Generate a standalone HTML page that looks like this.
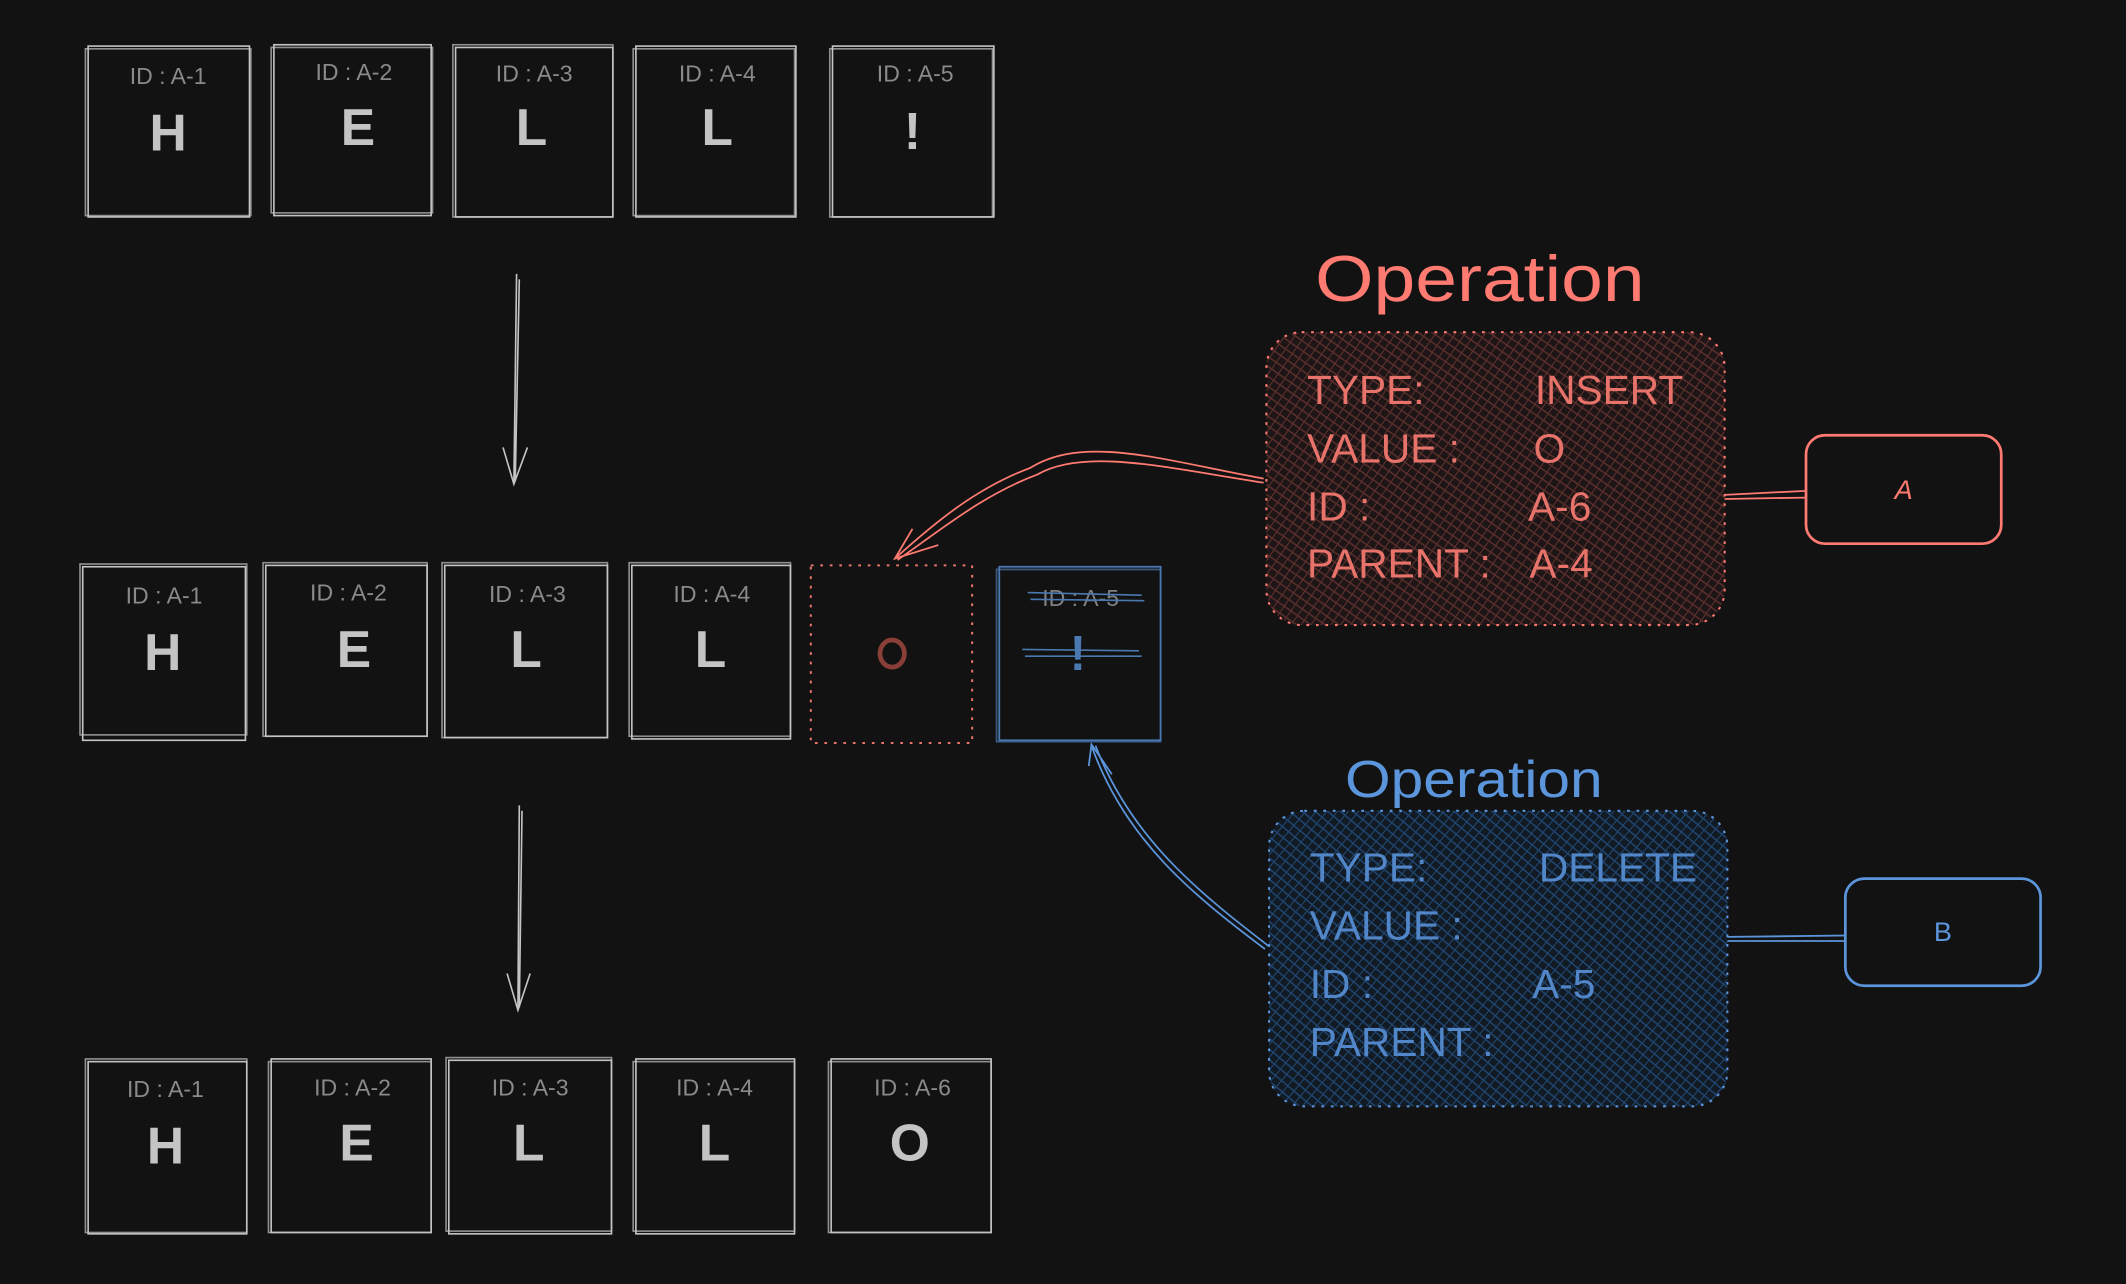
<!DOCTYPE html>
<html><head><meta charset="utf-8"><style>
html,body{margin:0;padding:0;background:#121212;}
svg{display:block}
</style></head><body>
<svg width="2126" height="1284" viewBox="0 0 1568 947" xmlns="http://www.w3.org/2000/svg">
<defs>
<pattern id="hr" width="6" height="6" patternUnits="userSpaceOnUse" patternTransform="rotate(35)">
<rect width="6" height="6" fill="#1e1616"/>
<line x1="0" y1="0" x2="0" y2="6" stroke="#6b3633" stroke-width="1.3"/>
<line x1="0" y1="3" x2="6" y2="3" stroke="#5a2e2c" stroke-width="1.1"/>
</pattern>
<pattern id="hb" width="6" height="6" patternUnits="userSpaceOnUse" patternTransform="rotate(40)">
<rect width="6" height="6" fill="#121a24"/>
<line x1="0" y1="0" x2="0" y2="6" stroke="#24507e" stroke-width="1.3"/>
<line x1="0" y1="3" x2="6" y2="3" stroke="#1f4570" stroke-width="1.1"/>
</pattern>
</defs>
<rect width="1568" height="947" fill="#121212"/>

<g fill="none" stroke="#c4c4c4" stroke-width="1.2">
<rect x="65" y="34" width="119" height="126"/><rect x="63" y="36" width="122" height="123" stroke-opacity=".7"/>
<rect x="202" y="33" width="116" height="126"/><rect x="200" y="35" width="119" height="122" stroke-opacity=".7"/>
<rect x="336" y="35" width="116" height="125"/><rect x="334" y="33" width="118" height="127" stroke-opacity=".7"/>
<rect x="469" y="34" width="118" height="126"/><rect x="467" y="36" width="119" height="123" stroke-opacity=".7"/>
<rect x="614" y="34" width="119" height="126"/><rect x="612" y="36" width="120" height="124" stroke-opacity=".7"/>
<rect x="61" y="418" width="120" height="128"/><rect x="59" y="416" width="123" height="126" stroke-opacity=".7"/>
<rect x="196" y="417" width="119" height="126"/><rect x="194" y="415" width="121" height="128" stroke-opacity=".7"/>
<rect x="328" y="417" width="120" height="127"/><rect x="326" y="415" width="122" height="129" stroke-opacity=".7"/>
<rect x="466" y="417" width="117" height="128"/><rect x="464" y="415" width="119" height="128" stroke-opacity=".7"/>
<rect x="65" y="783" width="117" height="127"/><rect x="63" y="781" width="119" height="128" stroke-opacity=".7"/>
<rect x="200" y="781" width="118" height="128"/><rect x="198" y="783" width="120" height="126" stroke-opacity=".7"/>
<rect x="331" y="782" width="120" height="128"/><rect x="329" y="780" width="122" height="128" stroke-opacity=".7"/>
<rect x="469" y="781" width="117" height="129"/><rect x="467" y="783" width="119" height="125" stroke-opacity=".7"/>
<rect x="613" y="781" width="118" height="128"/><rect x="611" y="783" width="120" height="126" stroke-opacity=".7"/>
<path d="M381 202 L379 357 M383 206 L380 355"/>
<path d="M371 330 L379 357 L389 330"/>
<path d="M383 594 L382 745 M385 598 L383 743"/>
<path d="M374 718 L382 745 L391 718"/>
</g>

<g font-family="Liberation Sans, sans-serif" fill="#8a8a8a" font-size="17" text-anchor="middle">
<text x="124" y="62">ID : A-1</text><text x="261" y="59">ID : A-2</text><text x="394" y="60">ID : A-3</text><text x="529" y="60">ID : A-4</text><text x="675" y="60">ID : A-5</text>
<text x="121" y="445">ID : A-1</text><text x="257" y="443">ID : A-2</text><text x="389" y="444">ID : A-3</text><text x="525" y="444">ID : A-4</text>
<text x="122" y="809">ID : A-1</text><text x="260" y="808">ID : A-2</text><text x="391" y="808">ID : A-3</text><text x="527" y="808">ID : A-4</text><text x="673" y="808">ID : A-6</text>
</g>
<g font-family="Liberation Sans, sans-serif" fill="#c4c4c4" font-size="38" font-weight="bold" text-anchor="middle">
<text x="124" y="111">H</text><text x="264" y="107">E</text><text x="392" y="107">L</text><text x="529" y="107">L</text><text x="673" y="110">!</text>
<text x="120" y="494">H</text><text x="261" y="492">E</text><text x="388" y="492">L</text><text x="524" y="492">L</text>
<text x="122" y="858">H</text><text x="263" y="856">E</text><text x="390" y="856">L</text><text x="527" y="856">L</text><text x="671" y="856">O</text>
</g>

<rect x="598" y="417" width="119" height="131" fill="none" stroke="#e8736b" stroke-width="1.5" stroke-dasharray="2 5"/>
<ellipse cx="658" cy="482" rx="9" ry="10" fill="none" stroke="#8a3e38" stroke-width="3.5"/>
<g fill="none" stroke="#4a78b0" stroke-width="1.3">
<rect x="737" y="418" width="119" height="128"/><rect x="735" y="420" width="121" height="127" stroke-opacity=".7"/>
</g>
<text x="797" y="447" font-family="Liberation Sans, sans-serif" font-size="17" fill="#808080" text-anchor="middle">ID : A-5</text>
<text x="795" y="494" font-family="Liberation Sans, sans-serif" font-size="36" font-weight="bold" fill="#4a78b0" text-anchor="middle">!</text>
<g stroke="#4a78b0" stroke-width="1.2">
<line x1="758" y1="437" x2="842" y2="439"/><line x1="760" y1="442" x2="844" y2="443"/>
<line x1="754" y1="479" x2="840" y2="480"/><line x1="756" y1="484" x2="842" y2="484"/>
</g>

<text x="970" y="222" font-family="Liberation Sans, sans-serif" font-size="48" fill="#ff7b72" textLength="243" lengthAdjust="spacingAndGlyphs">Operation</text>
<rect x="934" y="245" width="338" height="216" rx="26" fill="url(#hr)" stroke="#ff7b72" stroke-width="1.5" stroke-dasharray="2 5"/>
<g font-family="Liberation Sans, sans-serif" font-size="30" fill="#e8736b">
<text x="964" y="298">TYPE:</text><text x="1132" y="298">INSERT</text>
<text x="964" y="341">VALUE :</text><text x="1131" y="341">O</text>
<text x="964" y="384">ID :</text><text x="1127" y="384">A-6</text>
<text x="964" y="426">PARENT :</text><text x="1128" y="426">A-4</text>
</g>
<g fill="none" stroke="#ff7b72" stroke-width="1.3">
<path d="M932 353 C860 340 800 320 760 345 C720 360 690 385 660 412"/>
<path d="M932 356 C860 345 800 330 765 350 C725 365 695 390 662 413"/>
<path d="M673 390 L660 412 L692 402"/>
<path d="M1272 365 L1332 362 M1272 368 L1332 367"/>
</g>
<rect x="1332" y="321" width="144" height="80" rx="14" fill="none" stroke="#ff7b72" stroke-width="2"/>
<text x="1404" y="368" font-family="Liberation Sans, sans-serif" font-size="20" font-style="italic" fill="#ff7b72" text-anchor="middle">A</text>

<text x="992" y="588" font-family="Liberation Sans, sans-serif" font-size="38" fill="#5b95dc" textLength="190" lengthAdjust="spacingAndGlyphs">Operation</text>
<rect x="936" y="598" width="338" height="218" rx="26" fill="url(#hb)" stroke="#5b95dc" stroke-width="1.5" stroke-dasharray="2 5"/>
<g font-family="Liberation Sans, sans-serif" font-size="30" fill="#5186c8">
<text x="966" y="650">TYPE:</text><text x="1135" y="650">DELETE</text>
<text x="966" y="693">VALUE :</text>
<text x="966" y="736">ID :</text><text x="1130" y="736">A-5</text>
<text x="966" y="779">PARENT :</text>
</g>
<g fill="none" stroke="#5b95dc" stroke-width="1.3">
<path d="M933 700 C880 660 830 620 805 550"/>
<path d="M936 698 C884 658 834 618 808 550"/>
<path d="M803 565 L805 549 L820 571"/>
<path d="M1274 691 L1361 690 M1274 694 L1361 694"/>
</g>
<rect x="1361" y="648" width="144" height="79" rx="14" fill="none" stroke="#5b95dc" stroke-width="2"/>
<text x="1433" y="694" font-family="Liberation Sans, sans-serif" font-size="20" fill="#5b95dc" text-anchor="middle">B</text>
</svg>
</body></html>
